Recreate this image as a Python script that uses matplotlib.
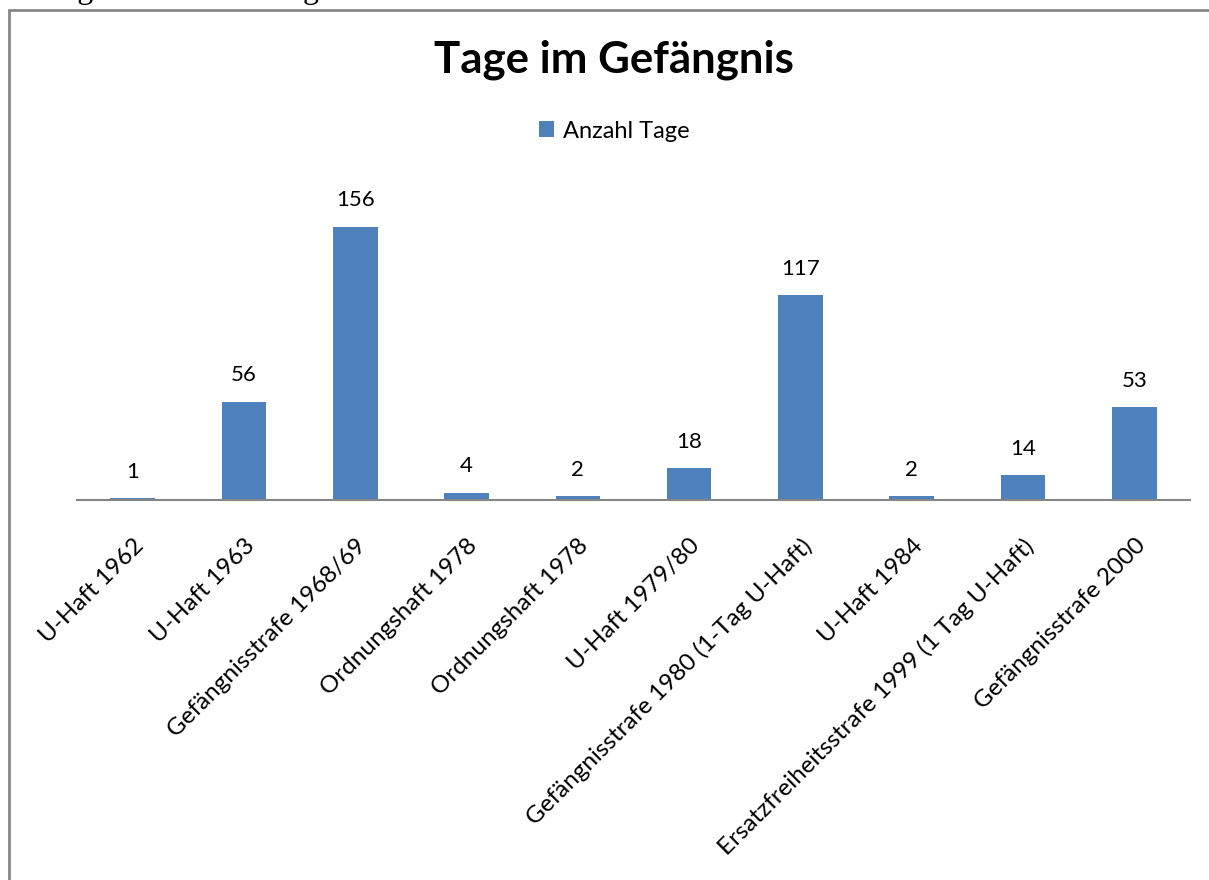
import matplotlib.pyplot as plt
from matplotlib.patches import Rectangle

# Daten
kategorien = ['U-Haft 1962', 'U-Haft 1963', 'Gefängnisstrafe 1968/69',
              'Ordnungshaft 1978', 'Ordnungshaft 1978', 'U-Haft 1979/80',
              'Gefängnisstrafe 1980 (1-Tag U-Haft)', 'U-Haft 1984',
              'Ersatzfreiheitsstrafe 1999 (1 Tag U-Haft)', 'Gefängnisstrafe 2000']
tage = [1, 56, 156, 4, 2, 18, 117, 2, 14, 53]

plt.rcParams['font.family'] = ['Lato', 'DejaVu Sans']

fig = plt.figure(figsize=(12.09, 8.8), dpi=100)

# Bildunterschrift oberhalb des Diagramms (im Original abgeschnitten)
fig.text(0.026, 1.002, 'Diagramm der Gefängnisaufenthalte', family='Liberation Serif',
         fontsize=23, ha='left', va='baseline')

# Rahmen des Diagrammbereichs
fig.patches.append(Rectangle((9 / 1209, -0.1), 1.1, 0.1 + (880 - 10) / 880,
                             transform=fig.transFigure, fill=False,
                             edgecolor='#888888', linewidth=2))

ax = fig.add_axes([77 / 1209, (880 - 500) / 880, (1190 - 77) / 1209, 315 / 880])
x = range(len(tage))
balken = ax.bar(x, tage, width=0.4, color='#4F81BD', label='Anzahl Tage')
ax.set_xlim(-0.5, len(tage) - 0.5)
ax.set_ylim(0, 180)

for xi, v in zip(x, tage):
    ax.annotate(str(v), (xi, v), xytext=(0, 12), textcoords='offset points',
                ha='center', va='bottom', fontsize=16)

for s in ['top', 'right', 'left']:
    ax.spines[s].set_visible(False)
ax.spines['bottom'].set_color('#868686')
ax.spines['bottom'].set_linewidth(1.5)
ax.set_yticks([])
ax.set_xticks(list(x))
ax.set_xticklabels(kategorien, rotation=45, ha='right', rotation_mode='anchor',
                   fontsize=17.5)
ax.tick_params(axis='x', length=0, pad=25)

fig.text(0.508, 0.932, 'Tage im Gefängnis', ha='center', va='center',
         fontsize=31.5, fontweight='bold')
fig.legend(handles=[balken], loc='center', bbox_to_anchor=(0.508, 0.851),
           frameon=False, fontsize=17, handlelength=0.65, handleheight=0.65,
           handletextpad=0.35)

plt.savefig('out.png')
